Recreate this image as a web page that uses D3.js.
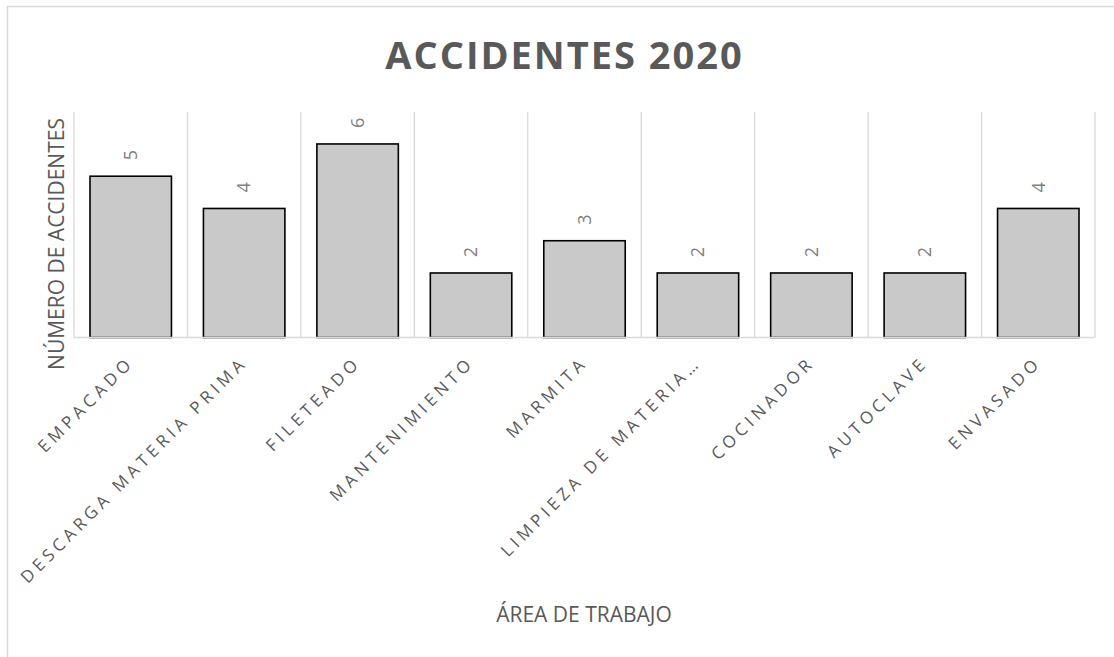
<!DOCTYPE html>
<html>
<head>
<meta charset="utf-8">
<script src="https://cdn.jsdelivr.net/npm/d3@7"></script>
<style>
  html, body { margin: 0; padding: 0; background: #fff; }
  svg { display: block; font-family: "Open Sans", "Noto Sans", sans-serif; }
</style>
</head>
<body>
<svg id="chart" width="1114" height="657"></svg>
<script>
// Accidentes por área de trabajo, año 2020
const areas = [
  "EMPACADO",
  "DESCARGA MATERIA PRIMA",
  "FILETEADO",
  "MANTENIMIENTO",
  "MARMITA",
  "LIMPIEZA DE MATERIA…",
  "COCINADOR",
  "AUTOCLAVE",
  "ENVASADO"
];
const accidentes = [5, 4, 6, 2, 3, 2, 2, 2, 4];
const yMax = 7;

const titleText = "ACCIDENTES 2020";
const yTitle = "NÚMERO DE ACCIDENTES";
const xTitle = "ÁREA DE TRABAJO";

const svg = d3.select("#chart");
const W = 1114, H = 657;
const plot = { left: 74, right: 1095, top: 111.7, bottom: 337.5 };

// Chart frame
svg.append("rect")
  .attr("x", 7.5).attr("y", 6.5)
  .attr("width", W + 10).attr("height", H + 10)
  .attr("fill", "#fff").attr("stroke", "#d9d9d9").attr("stroke-width", 1.5);

const x = d3.scaleBand()
  .domain(areas)
  .range([plot.left, plot.right])
  .paddingInner(0.282)
  .paddingOuter(0.141);

const y = d3.scaleLinear()
  .domain([0, yMax])
  .range([plot.bottom, plot.top]);

// Vertical gridlines at category boundaries
const step = x.step();
const bounds = d3.range(areas.length + 1).map(i => plot.left + i * step);
svg.append("g")
  .selectAll("line")
  .data(bounds)
  .join("line")
  .attr("x1", d => d).attr("x2", d => d)
  .attr("y1", plot.top).attr("y2", plot.bottom)
  .attr("stroke", "#d9d9d9").attr("stroke-width", 1.3);

// Bars
svg.append("g")
  .selectAll("rect")
  .data(areas)
  .join("rect")
  .attr("x", d => x(d))
  .attr("y", (d, i) => y(accidentes[i]))
  .attr("width", x.bandwidth())
  .attr("height", (d, i) => y(0) - y(accidentes[i]))
  .attr("fill", "#c9c9c9")
  .attr("stroke", "#000")
  .attr("stroke-width", 1.6);

// Category axis
const xAxis = svg.append("g")
  .attr("transform", `translate(0,${plot.bottom})`)
  .call(d3.axisBottom(x).tickSize(0).tickPadding(0));
xAxis.attr("font-size", null).attr("font-family", null);
xAxis.select(".domain")
  .attr("d", `M${plot.left},0H${plot.right}`)
  .attr("stroke", "#d9d9d9").attr("stroke-width", 1.5);
xAxis.selectAll(".tick text")
  .attr("text-anchor", "end")
  .style("font-family", "\"Open Sans\", sans-serif")
  .style("font-size", "17px")
  .style("letter-spacing", "4.3px")
  .attr("fill", "#595959")
  .attr("dy", "0.35em")
  .attr("transform", "translate(0,22) rotate(-45)");

// Value labels, rotated
svg.append("g")
  .selectAll("text")
  .data(areas)
  .join("text")
  .attr("transform", (d, i) =>
    `translate(${x(d) + x.bandwidth() / 2},${y(accidentes[i]) - 21}) rotate(-90)`)
  .attr("text-anchor", "middle")
  .attr("dy", "0.35em")
  .style("font-size", "18px")
  .attr("fill", "#7f7f7f")
  .text((d, i) => accidentes[i]);

// Title
svg.append("text")
  .attr("x", (plot.left + plot.right) / 2 - 20)
  .attr("y", 69)
  .attr("text-anchor", "middle")
  .style("font-size", "38px")
  .attr("font-weight", "bold")
  .style("letter-spacing", "2px")
  .attr("fill", "#595959")
  .text(titleText);

// Axis titles
svg.append("text")
  .attr("transform", "translate(64,244) rotate(-90)")
  .attr("text-anchor", "middle")
  .style("font-size", "21px")
  .attr("fill", "#595959")
  .text(yTitle);

svg.append("text")
  .attr("x", 584)
  .attr("y", 622)
  .attr("text-anchor", "middle")
  .style("font-size", "21px")
  .attr("fill", "#595959")
  .text(xTitle);
</script>
</body>
</html>
